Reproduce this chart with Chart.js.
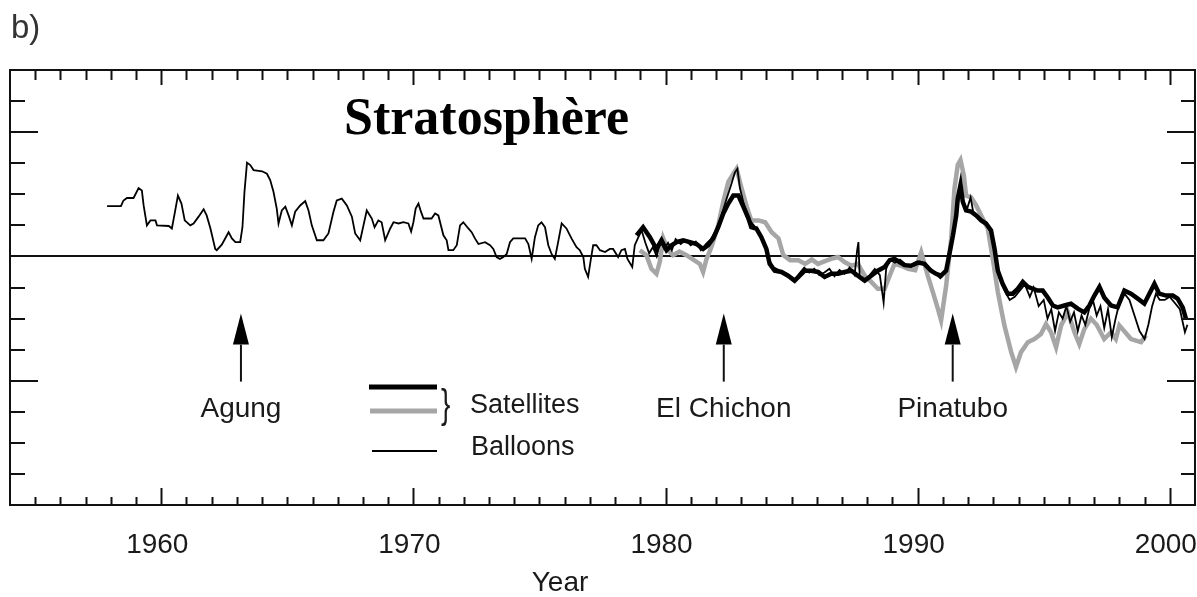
<!DOCTYPE html>
<html>
<head>
<meta charset="utf-8">
<title>Stratosphère</title>
<script src="https://cdn.jsdelivr.net/npm/chart.js@4.4.1/dist/chart.umd.min.js"></script>
<style>
  html, body { margin: 0; padding: 0; background: #fff; }
  #wrap { width: 1197px; height: 597px; }
</style>
</head>
<body>
<div id="wrap"><canvas id="chart" width="1197" height="597"></canvas></div>
<script>
// ── Data (temperature anomaly, K) ──
const balloonYears = [
  1957.85, 1958.40, 1958.50, 1958.64, 1958.90, 1959.10, 1959.23, 1959.30, 1959.43, 1959.57,
  1959.77, 1959.83, 1960.30, 1960.42, 1960.53, 1960.66, 1960.80, 1960.93, 1961.15, 1961.28,
  1961.48, 1961.68, 1961.80, 1961.95, 1962.14, 1962.20, 1962.40, 1962.67, 1962.80, 1962.94,
  1963.13, 1963.22, 1963.30, 1963.40, 1963.53, 1963.66, 1964.00, 1964.19, 1964.32, 1964.45,
  1964.58, 1964.65, 1964.78, 1964.92, 1965.05, 1965.18, 1965.31, 1965.51, 1965.71, 1965.84,
  1965.97, 1966.17, 1966.43, 1966.63, 1966.83, 1966.96, 1967.16, 1967.36, 1967.56, 1967.69,
  1967.89, 1968.02, 1968.15, 1968.35, 1968.46, 1968.61, 1968.74, 1968.88, 1969.08, 1969.21,
  1969.41, 1969.60, 1969.80, 1969.91, 1970.00, 1970.09, 1970.20, 1970.30, 1970.40, 1970.72,
  1970.86, 1970.99, 1971.19, 1971.32, 1971.39, 1971.58, 1971.72, 1971.85, 1971.98, 1972.18,
  1972.31, 1972.44, 1972.58, 1972.84, 1973.04, 1973.17, 1973.30, 1973.43, 1973.57, 1973.70,
  1973.83, 1973.96, 1974.43, 1974.56, 1974.69, 1974.82, 1974.95, 1975.08, 1975.22, 1975.35,
  1975.48, 1975.61, 1975.74, 1975.88, 1976.07, 1976.27, 1976.47, 1976.60, 1976.74, 1976.80,
  1976.93, 1977.04, 1977.13, 1977.26, 1977.40, 1977.60, 1977.79, 1977.92, 1978.12, 1978.25,
  1978.39, 1978.49, 1978.68, 1978.78, 1978.91, 1979.05, 1979.20, 1979.35, 1979.50, 1979.65,
  1979.80, 1979.95, 1980.10, 1980.25, 1980.40, 1980.60, 1980.80, 1981.00, 1981.20, 1981.40,
  1981.60, 1981.80, 1982.00, 1982.20, 1982.40, 1982.60, 1982.75, 1982.85, 1982.95, 1983.10,
  1983.30, 1983.50, 1983.70, 1983.90, 1984.10, 1984.30, 1984.50, 1984.70, 1984.90, 1985.10,
  1985.30, 1985.50, 1985.70, 1985.90, 1986.10, 1986.30, 1986.50, 1986.70, 1986.90, 1987.10,
  1987.30, 1987.50, 1987.60, 1987.65, 1987.70, 1987.90, 1988.10, 1988.30, 1988.50, 1988.65,
  1988.75, 1988.90, 1989.10, 1989.30, 1989.50, 1989.70, 1989.90, 1990.10, 1990.30, 1990.50,
  1990.70, 1990.90, 1991.10, 1991.25, 1991.40, 1991.55, 1991.65, 1991.72, 1991.80, 1991.95,
  1992.10, 1992.20, 1992.35, 1992.55, 1992.75, 1992.95, 1993.10, 1993.25, 1993.45, 1993.65,
  1993.85, 1994.05, 1994.25, 1994.45, 1994.60, 1994.80, 1995.00, 1995.15, 1995.30, 1995.45,
  1995.60, 1995.75, 1995.90, 1996.05, 1996.20, 1996.35, 1996.50, 1996.65, 1996.80, 1996.95,
  1997.10, 1997.25, 1997.40, 1997.55, 1997.70, 1997.85, 1998.00, 1998.20, 1998.40, 1998.60,
  1998.80, 1999.00, 1999.15, 1999.30, 1999.45, 1999.60, 1999.80, 2000.00, 2000.20, 2000.40,
  2000.60, 2000.70
];
const balloonValues = [
  0.81, 0.81, 0.90, 0.94, 0.94, 1.10, 1.06, 0.82, 0.50, 0.58,
  0.58, 0.50, 0.49, 0.45, 0.69, 0.98, 0.85, 0.58, 0.50, 0.53,
  0.64, 0.76, 0.66, 0.45, 0.12, 0.10, 0.19, 0.39, 0.29, 0.23,
  0.23, 0.47, 1.04, 1.51, 1.47, 1.39, 1.37, 1.33, 1.23, 1.04,
  0.77, 0.53, 0.74, 0.80, 0.66, 0.50, 0.72, 0.82, 0.89, 0.74,
  0.50, 0.26, 0.26, 0.37, 0.72, 0.90, 0.93, 0.82, 0.64, 0.37,
  0.26, 0.50, 0.74, 0.61, 0.47, 0.58, 0.55, 0.26, 0.45, 0.55,
  0.53, 0.55, 0.53, 0.40, 0.55, 0.77, 0.85, 0.72, 0.61, 0.61,
  0.69, 0.66, 0.34, 0.26, 0.10, 0.10, 0.18, 0.50, 0.55, 0.45,
  0.39, 0.29, 0.20, 0.23, 0.18, 0.12, -0.01, -0.04, -0.01, 0.04,
  0.23, 0.29, 0.29, 0.20, -0.04, 0.31, 0.50, 0.55, 0.47, 0.18,
  0.04, -0.04, 0.23, 0.53, 0.45, 0.29, 0.15, 0.10, -0.01, -0.20,
  -0.33, -0.04, 0.18, 0.18, 0.10, 0.07, 0.12, 0.12, -0.01, 0.10,
  0.12, -0.04, -0.17, 0.18, 0.30, 0.42, 0.22, 0.05, 0.15, 0.00,
  0.25, 0.12, 0.22, 0.10, 0.28, 0.20, 0.26, 0.18, 0.24, 0.10,
  0.20, 0.28, 0.42, 0.64, 0.90, 1.15, 1.35, 1.41, 1.10, 0.85,
  0.60, 0.50, 0.38, 0.20, -0.05, -0.18, -0.22, -0.26, -0.30, -0.40,
  -0.28, -0.18, -0.26, -0.20, -0.30, -0.26, -0.20, -0.32, -0.22, -0.28,
  -0.18, -0.30, 0.10, 0.23, -0.30, -0.40, -0.30, -0.20, -0.30, -0.74,
  -0.20, -0.05, -0.10, -0.05, -0.12, -0.16, -0.10, -0.08, -0.12, -0.20,
  -0.28, -0.35, -0.25, 0.05, 0.36, 0.70, 1.00, 1.12, 0.85, 0.75,
  0.95, 0.72, 0.66, 0.58, 0.50, 0.38, 0.05, -0.35, -0.55, -0.70,
  -0.65, -0.55, -0.45, -0.65, -0.50, -0.80, -0.70, -1.00, -0.85, -1.20,
  -0.90, -1.00, -0.80, -1.05, -0.90, -1.20, -0.95, -1.10, -0.85, -0.70,
  -0.95, -0.80, -1.15, -0.85, -1.30, -1.00, -0.75, -0.60, -0.70, -0.95,
  -1.20, -1.33, -1.10, -0.80, -0.60, -0.70, -0.70, -0.65, -0.75, -0.85,
  -1.22, -1.10
];

const satAYears = [
  1978.85, 1979.11, 1979.38, 1979.64, 1979.84, 1980.04, 1980.24, 1980.44, 1980.70, 1980.97,
  1981.23, 1981.49, 1981.69, 1981.89, 1982.09, 1982.29, 1982.49, 1982.69, 1982.89, 1983.09,
  1983.29, 1983.40, 1983.60, 1983.80, 1984.00, 1984.13, 1984.33, 1984.60, 1984.86, 1985.12,
  1985.32, 1985.52, 1985.78, 1986.05, 1986.31, 1986.57, 1986.84, 1987.10, 1987.37, 1987.63,
  1987.90, 1988.16, 1988.42, 1988.69, 1988.89, 1989.08, 1989.28, 1989.48, 1989.74, 1990.01,
  1990.27, 1990.53, 1990.73, 1990.93, 1991.13, 1991.26, 1991.40, 1991.53, 1991.59, 1991.70,
  1991.79, 1991.92, 1992.12, 1992.32, 1992.52, 1992.71, 1992.91, 1993.05, 1993.18, 1993.37,
  1993.57, 1993.77, 1993.97, 1994.17, 1994.37, 1994.57, 1994.76, 1994.96, 1995.16, 1995.36,
  1995.55, 1995.82, 1996.08, 1996.35, 1996.61, 1996.81, 1997.01, 1997.21, 1997.40, 1997.67,
  1997.93, 1998.20, 1998.46, 1998.73, 1998.99, 1999.19, 1999.39, 1999.58, 1999.85, 2000.12,
  2000.31, 2000.51, 2000.64
];
const satAValues = [
  0.34, 0.47, 0.31, 0.12, 0.26, 0.10, 0.18, 0.23, 0.26, 0.23,
  0.20, 0.12, 0.18, 0.29, 0.47, 0.69, 0.85, 0.98, 0.98, 0.80,
  0.61, 0.47, 0.45, 0.31, 0.12, -0.12, -0.23, -0.25, -0.31, -0.39,
  -0.31, -0.23, -0.23, -0.25, -0.33, -0.28, -0.28, -0.25, -0.23, -0.31,
  -0.39, -0.31, -0.23, -0.17, -0.06, -0.04, -0.09, -0.14, -0.15, -0.10,
  -0.12, -0.23, -0.28, -0.31, -0.23, 0.04, 0.34, 0.66, 0.93, 1.15,
  0.88, 0.74, 0.72, 0.66, 0.58, 0.53, 0.42, 0.12, -0.23, -0.44,
  -0.60, -0.60, -0.52, -0.41, -0.49, -0.52, -0.55, -0.55, -0.66, -0.79,
  -0.82, -0.79, -0.76, -0.84, -0.90, -0.79, -0.63, -0.49, -0.66, -0.79,
  -0.82, -0.55, -0.60, -0.68, -0.76, -0.60, -0.44, -0.60, -0.63, -0.63,
  -0.68, -0.82, -1.00
];

const satBYears = [
  1978.98, 1979.24, 1979.44, 1979.64, 1979.77, 1979.91, 1980.10, 1980.30, 1980.55, 1980.83,
  1981.10, 1981.36, 1981.49, 1981.62, 1981.82, 1982.09, 1982.29, 1982.49, 1982.69, 1982.82,
  1983.02, 1983.22, 1983.40, 1983.69, 1983.95, 1984.21, 1984.48, 1984.67, 1984.94, 1985.27,
  1985.54, 1985.80, 1986.05, 1986.30, 1986.57, 1986.84, 1987.10, 1987.37, 1987.63, 1987.90,
  1988.16, 1988.42, 1988.69, 1988.89, 1989.08, 1989.35, 1989.62, 1989.90, 1990.14, 1990.40,
  1990.60, 1990.80, 1990.93, 1991.13, 1991.33, 1991.46, 1991.59, 1991.70, 1991.83, 1991.92,
  1992.12, 1992.32, 1992.58, 1992.78, 1992.98, 1993.18, 1993.44, 1993.71, 1993.90, 1994.10,
  1994.37, 1994.63, 1994.89, 1995.09, 1995.29, 1995.49, 1995.69, 1995.96, 1996.22, 1996.41,
  1996.61, 1996.87, 1997.10, 1997.40, 1997.67, 1997.86, 1998.00, 1998.46, 1998.86, 1999.06
];
const satBValues = [
  0.10, 0.02, -0.20, -0.28, -0.09, 0.29, 0.10, 0.02, 0.08, 0.02,
  -0.05, -0.12, -0.25, -0.05, 0.15, 0.50, 0.88, 1.20, 1.33, 1.41,
  1.09, 0.80, 0.58, 0.58, 0.55, 0.39, 0.29, 0.02, -0.06, -0.06,
  -0.12, -0.05, -0.12, -0.08, -0.04, -0.01, -0.09, -0.15, -0.12, -0.31,
  -0.41, -0.52, -0.52, -0.31, -0.12, -0.15, -0.20, -0.22, 0.07, -0.31,
  -0.57, -0.84, -1.03, -0.47, 0.29, 1.09, 1.47, 1.55, 1.31, 0.98,
  0.95, 0.82, 0.61, 0.45, -0.04, -0.57, -1.11, -1.54, -1.78, -1.54,
  -1.38, -1.33, -1.25, -1.09, -1.22, -1.46, -1.11, -0.90, -1.22, -1.41,
  -1.17, -1.00, -1.10, -1.33, -1.22, -1.33, -1.11, -1.33, -1.38, -1.27
];

const xTickLabels = ['1960', '1970', '1980', '1990', '2000'];
const eruptionNames = ['Agung', 'El Chichon', 'Pinatubo'];
const eruptionYears = [1963.16, 1982.31, 1991.39];

const X_MIN = 1954, X_MAX = 2001;
const Y_MIN = -4, Y_MAX = 3;

const toPoints = (xs, ys) => xs.map((x, i) => ({ x, y: ys[i] }));

// ── Frame, ticks, labels, annotations ──
const decorPlugin = {
  id: 'decor',
  beforeDatasetsDraw(chart) {
    const { ctx, chartArea: a, scales: { y } } = chart;
    const y0 = Math.round(y.getPixelForValue(0));
    ctx.save();
    ctx.strokeStyle = '#111';
    ctx.lineWidth = 2;
    ctx.beginPath();
    ctx.moveTo(a.left, y0);
    ctx.lineTo(a.right, y0);
    ctx.stroke();
    ctx.restore();
  },
  afterDraw(chart) {
    const { ctx, chartArea: a, scales: { x, y } } = chart;
    ctx.save();
    ctx.strokeStyle = '#111';
    ctx.lineWidth = 2;
    ctx.strokeRect(a.left, a.top, a.right - a.left, a.bottom - a.top);

    // year ticks (inward)
    ctx.beginPath();
    for (let yr = Math.ceil(X_MIN); yr <= X_MAX; yr++) {
      const px = Math.round(x.getPixelForValue(yr)) + 0.5;
      if (px <= a.left + 1 || px >= a.right - 1) continue;
      const major = yr % 10 === 0;
      ctx.moveTo(px, a.top); ctx.lineTo(px, a.top + (major ? 15 : 10));
      ctx.moveTo(px, a.bottom); ctx.lineTo(px, a.bottom - (major ? 17 : 8));
    }
    // value ticks every 0.5 K
    for (let v = Y_MIN + 0.5; v < Y_MAX; v += 0.5) {
      const py = Math.round(y.getPixelForValue(v));
      const major = Math.abs(Math.abs(v) - 2) < 1e-6;
      ctx.moveTo(a.left, py); ctx.lineTo(a.left + (major ? 28 : 15), py);
      ctx.moveTo(a.right, py); ctx.lineTo(a.right - (major ? 28 : 14), py);
    }
    ctx.stroke();

    // x tick labels
    ctx.fillStyle = '#1a1a1a';
    ctx.font = '28px "Liberation Sans", Arial, sans-serif';
    ctx.textAlign = 'center';
    ctx.textBaseline = 'alphabetic';
    xTickLabels.forEach(lbl => {
      ctx.fillText(lbl, x.getPixelForValue(+lbl) - 4, a.bottom + 48);
    });
    ctx.fillText('Year', 560, 591);

    // panel letter and title
    ctx.textAlign = 'left';
    ctx.font = '33px "Liberation Sans", Arial, sans-serif';
    ctx.fillStyle = '#333';
    ctx.fillText('b)', 11, 38);
    ctx.fillStyle = '#000';
    ctx.font = 'bold 52px "Liberation Serif", "Times New Roman", serif';
    ctx.fillText('Stratosphère', 344, 134);

    // eruption arrows
    ctx.fillStyle = '#000';
    ctx.textAlign = 'center';
    ctx.font = '28px "Liberation Sans", Arial, sans-serif';
    eruptionYears.forEach((yr, i) => {
      const px = x.getPixelForValue(yr);
      const tip = y.getPixelForValue(-0.92);
      const base = tip + 31;
      const end = tip + 68;
      ctx.beginPath();
      ctx.moveTo(px, tip);
      ctx.lineTo(px + 8, base);
      ctx.lineTo(px - 8, base);
      ctx.closePath();
      ctx.fill();
      ctx.lineWidth = 2;
      ctx.beginPath();
      ctx.moveTo(px, base);
      ctx.lineTo(px, end);
      ctx.stroke();
      ctx.fillStyle = '#1a1a1a';
      ctx.fillText(eruptionNames[i], px, end + 35);
      ctx.fillStyle = '#000';
    });

    // legend
    ctx.lineCap = 'butt';
    ctx.strokeStyle = '#000';
    ctx.lineWidth = 5;
    ctx.beginPath(); ctx.moveTo(369, 387); ctx.lineTo(437, 387); ctx.stroke();
    ctx.strokeStyle = '#a6a6a6';
    ctx.beginPath(); ctx.moveTo(370, 411); ctx.lineTo(437, 411); ctx.stroke();
    ctx.strokeStyle = '#000';
    ctx.lineWidth = 2;
    ctx.beginPath(); ctx.moveTo(372, 451); ctx.lineTo(437, 451); ctx.stroke();
    ctx.fillStyle = '#1a1a1a';
    ctx.textAlign = 'left';
    ctx.save();
    ctx.translate(441, 418);
    ctx.scale(1, 1.45);
    ctx.font = '28px "Liberation Sans", Arial, sans-serif';
    ctx.fillText('}', 0, 0);
    ctx.restore();
    ctx.font = '27px "Liberation Sans", Arial, sans-serif';
    ctx.fillText('Satellites', 470, 413);
    ctx.fillText('Balloons', 471, 455);
    ctx.restore();
  }
};

new Chart(document.getElementById('chart'), {
  type: 'line',
  data: {
    datasets: [
      {
        label: 'Balloons',
        data: toPoints(balloonYears, balloonValues),
        borderColor: '#000',
        borderWidth: 1.8,
        pointRadius: 0,
        tension: 0
      },
      {
        label: 'Satellites (black)',
        data: toPoints(satAYears, satAValues),
        borderColor: '#000',
        borderWidth: 4.5,
        pointRadius: 0,
        tension: 0
      },
      {
        label: 'Satellites (grey)',
        data: toPoints(satBYears, satBValues),
        borderColor: '#a6a6a6',
        borderWidth: 4.5,
        pointRadius: 0,
        tension: 0
      }
    ]
  },
  options: {
    responsive: false,
    animation: false,
    events: [],
    layout: { padding: { left: 10, right: 2, top: 70, bottom: 92 } },
    plugins: { legend: { display: false }, tooltip: { enabled: false } },
    scales: {
      x: { type: 'linear', min: X_MIN, max: X_MAX, display: false },
      y: { type: 'linear', min: Y_MIN, max: Y_MAX, display: false }
    }
  },
  plugins: [decorPlugin]
});
</script>
</body>
</html>
